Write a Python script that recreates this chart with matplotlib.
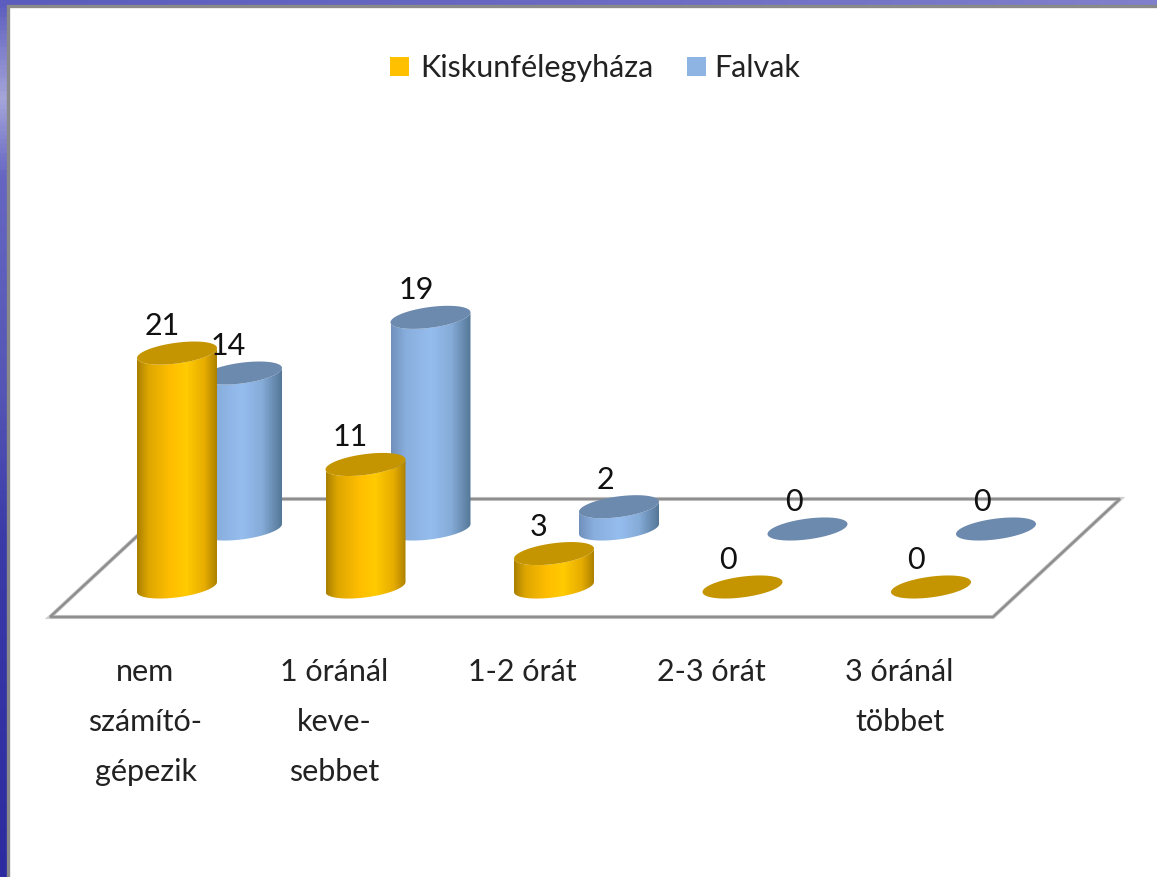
import numpy as np
import matplotlib
matplotlib.use("Agg")
import matplotlib.pyplot as plt
from matplotlib.colors import LinearSegmentedColormap
from matplotlib.patches import PathPatch, Polygon, Rectangle
from matplotlib.path import Path

categories = ["nem\nszámító-\ngépezik", "1 óránál\nkeve-\nsebbet", "1-2 órát", "2-3 órát", "3 óránál\ntöbbet"]
kiskun = [21, 11, 3, 0, 0]
falvak = [14, 19, 2, 0, 0]
series_names = ["Kiskunfélegyháza", "Falvak"]

# layout in image pixels
W, H = 1157, 878
STEP = 188.5
UNIT = 11.14
RX, RY, TILT = 40, 10.4, 5

TEXT_FONT = "Lato"
FS = 22

ORANGE = [(0, "#A98000"), (0.14, "#DDA600"), (0.42, "#FFBE00"), (0.62, "#FFCB00"), (0.85, "#E6AC00"), (1, "#AD8200")]
ORANGE_TOP = "#C49500"
BLUE = [(0, "#7190BC"), (0.18, "#88AEDD"), (0.5, "#95BDEE"), (0.75, "#86ACD9"), (1, "#557898")]
BLUE_TOP = "#6C89AE"


def ellipse_xy(cx, cy, t):
    return cx + RX * np.cos(t), cy + RY * np.sin(t) - TILT * np.cos(t)


def cylinder(ax, cx, base_y, value, side, top, z):
    top_y = base_y - value * UNIT
    t = np.linspace(0, 2 * np.pi, 90)
    if value > 0:
        # body: front half of the base plus the back half of the top
        t_front = np.linspace(0, np.pi, 45)
        bx, by = ellipse_xy(cx, base_y, t_front)
        tx, ty = ellipse_xy(cx, top_y, t_front[::-1])
        verts = np.column_stack([np.r_[bx, tx], np.r_[by, ty]])
        clip = PathPatch(Path(np.vstack([verts, verts[0]])), fc="none", ec="none", transform=ax.transData)
        ax.add_patch(clip)
        cmap = LinearSegmentedColormap.from_list("side", side)
        img = ax.imshow(np.linspace(0, 1, 200).reshape(1, -1), cmap=cmap, aspect="auto",
                        extent=[cx - RX, cx + RX, base_y + RY + 6, top_y - RY - 6], zorder=z)
        img.set_clip_path(clip)
    ex, ey = ellipse_xy(cx, top_y, t)
    ax.add_patch(Polygon(np.column_stack([ex, ey]), closed=True, fc=top, ec="none", zorder=z + 0.1))
    return top_y


fig = plt.figure(figsize=(W / 100, H / 100), dpi=100)
ax = fig.add_axes([0, 0, 1, 1])

# slide background and white panel
bg = LinearSegmentedColormap.from_list("bg", [(0, "#5C5CBE"), (0.11, "#A5A5DA"), (0.2, "#6666C2"),
                                              (0.45, "#5555B5"), (0.62, "#3A3AA8"), (1, "#2C2CA0")])
ax.imshow(np.linspace(0, 1, 200).reshape(-1, 1), cmap=bg, aspect="auto", extent=[0, W, H, 0], zorder=0)
top_band = LinearSegmentedColormap.from_list("band", ["#5C5CBE", "#6A6AC4", "#8080CC"])
ax.imshow(np.linspace(0, 1, 200).reshape(1, -1), cmap=top_band, aspect="auto", extent=[0, W, 7, 0], zorder=0.5)
ax.add_patch(Rectangle((8, 7), W, H, fc="#FFFFFF", ec="#8A8A8A", lw=2.4, zorder=1))

# floor of the 3D chart
floor = [(50, 618), (993, 618), (1120, 500), (177, 500)]
ax.add_patch(Polygon(floor, closed=True, fc="white", ec="#CFCFCF", lw=3, joinstyle="miter", zorder=2))
ax.add_patch(Polygon(floor, closed=True, fc="none", ec="#8E8E8E", lw=1.8, joinstyle="miter", zorder=2.1))

BACK_X, BACK_Y = 242, 530
FRONT_X, FRONT_Y = 177, 588
for i, name in enumerate(categories):
    back_x = BACK_X + i * STEP
    front_x = FRONT_X + i * STEP
    top_b = cylinder(ax, back_x, BACK_Y, falvak[i], BLUE, BLUE_TOP, 3 + i)
    top_f = cylinder(ax, front_x, FRONT_Y, kiskun[i], ORANGE, ORANGE_TOP, 3.5 + i)
    ax.text(back_x - 14, top_b - 14, str(falvak[i]), ha="center", va="bottom", fontsize=FS,
            family=TEXT_FONT, color="#111111", zorder=20)
    ax.text(front_x - 15, top_f - 14, str(kiskun[i]), ha="center", va="bottom", fontsize=FS,
            family=TEXT_FONT, color="#111111", zorder=20)
    ax.text(front_x - 31.5, 658, name, ha="center", va="top", fontsize=FS, family=TEXT_FONT,
            color="#222222", linespacing=1.95, zorder=20)

# legend
ax.add_patch(Rectangle((390, 58), 19, 19, fc="#FFC000", ec="none", zorder=20))
ax.add_patch(Rectangle((687, 58), 19, 19, fc="#8DB4E2", ec="none", zorder=20))
ax.text(420, 68, series_names[0], ha="left", va="center", fontsize=FS, family=TEXT_FONT, color="#222222", zorder=20)
ax.text(714, 68, series_names[1], ha="left", va="center", fontsize=FS, family=TEXT_FONT, color="#222222", zorder=20)

ax.set_xlim(0, W)
ax.set_ylim(H, 0)
ax.axis("off")
fig.savefig("out.png", dpi=100)
